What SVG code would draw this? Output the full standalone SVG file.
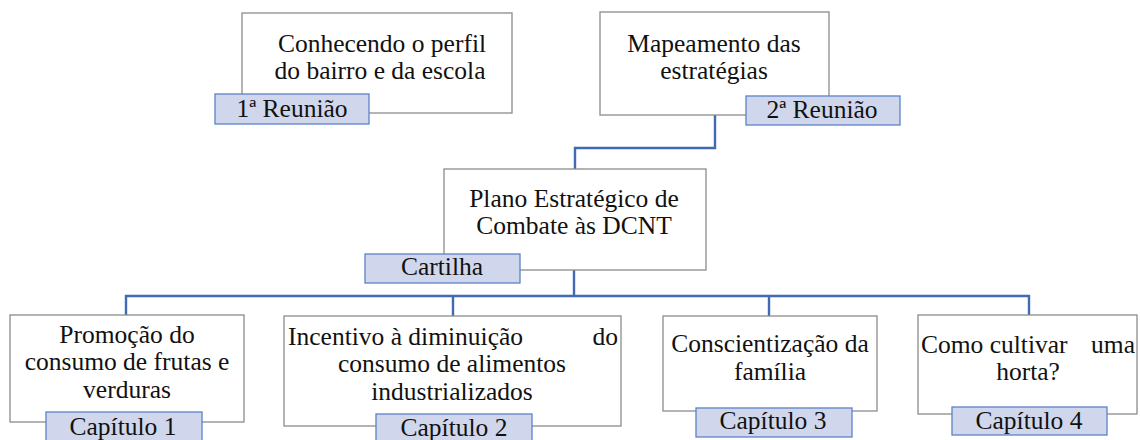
<svg xmlns="http://www.w3.org/2000/svg" width="1140" height="440" viewBox="0 0 1140 440" font-family="Liberation Serif, Times New Roman, DejaVu Serif, serif">
<style>
.box{fill:#ffffff;stroke:#8c8c8c;stroke-width:1.3}
.lab{fill:#d0d7ec;stroke:#5b83c9;stroke-width:1.3}
text{font-size:25.5px;fill:#111;text-anchor:middle}
.s{text-anchor:start}
.e{text-anchor:end}
.c{fill:none;stroke:#4169b4;stroke-width:2.4}
</style>
<rect width="1140" height="440" fill="#ffffff"/>
<g id="connectors">
<polyline class="c" points="715,115 715,148 575,148 575,169"/>
<line class="c" x1="574" y1="270" x2="574" y2="296"/>
<line class="c" x1="125" y1="296" x2="1030" y2="296"/>
<line class="c" x1="126" y1="295" x2="126" y2="315"/>
<line class="c" x1="453" y1="295" x2="453" y2="316"/>
<line class="c" x1="769" y1="295" x2="769" y2="316"/>
<line class="c" x1="1029" y1="295" x2="1029" y2="315"/>
</g>
<g id="n1" font-family="Liberation Serif, serif">
<rect class="box" x="242" y="13" width="270" height="100"/>
<text x="382" y="52">Conhecendo o perfil</text>
<text x="380" y="79">do bairro e da escola</text>
<rect class="lab" x="215" y="94" width="154" height="30"/>
<text x="292" y="117">1ª Reunião</text>
</g>
<g id="n2" font-family="Liberation Serif, serif">
<rect class="box" x="600" y="12" width="229" height="103"/>
<text x="714" y="52">Mapeamento das</text>
<text x="714" y="79">estratégias</text>
<rect class="lab" x="746" y="96" width="154" height="29"/>
<text x="822" y="118">2ª Reunião</text>
</g>
<g id="n3" font-family="Liberation Serif, serif">
<rect class="box" x="444" y="169" width="262" height="101"/>
<text x="574" y="207">Plano Estratégico de</text>
<text x="574" y="234">Combate às DCNT</text>
<rect class="lab" x="365" y="254" width="155" height="29"/>
<text x="442" y="275">Cartilha</text>
</g>
<g id="n4" font-family="Liberation Serif, serif">
<rect class="box" x="10" y="315" width="234" height="107"/>
<text x="127" y="343">Promoção do</text>
<text x="127" y="370">consumo de frutas e</text>
<text x="127" y="398">verduras</text>
<rect class="lab" x="46" y="412" width="156" height="34"/>
<text x="123" y="435">Capítulo 1</text>
</g>
<g id="n5" font-family="Liberation Serif, serif">
<rect class="box" x="284" y="316" width="337" height="110"/>
<text class="s" x="288" y="345">Incentivo à diminuição</text>
<text class="e" x="618" y="345">do</text>
<text x="452" y="372">consumo de alimentos</text>
<text x="452" y="400">industrializados</text>
<rect class="lab" x="376" y="414" width="156" height="32"/>
<text x="454" y="436">Capítulo 2</text>
</g>
<g id="n6" font-family="Liberation Serif, serif">
<rect class="box" x="663" y="316" width="214" height="95"/>
<text x="770" y="352">Conscientização da</text>
<text x="770" y="380">família</text>
<rect class="lab" x="696" y="408" width="156" height="29"/>
<text x="773" y="429">Capítulo 3</text>
</g>
<g id="n7" font-family="Liberation Serif, serif">
<rect class="box" x="918" y="315" width="219" height="99"/>
<text class="s" x="921" y="353">Como cultivar</text>
<text class="e" x="1135" y="353">uma</text>
<text x="1028" y="380">horta?</text>
<rect class="lab" x="952" y="407" width="155" height="28"/>
<text x="1029" y="429">Capítulo 4</text>
</g>
</svg>
